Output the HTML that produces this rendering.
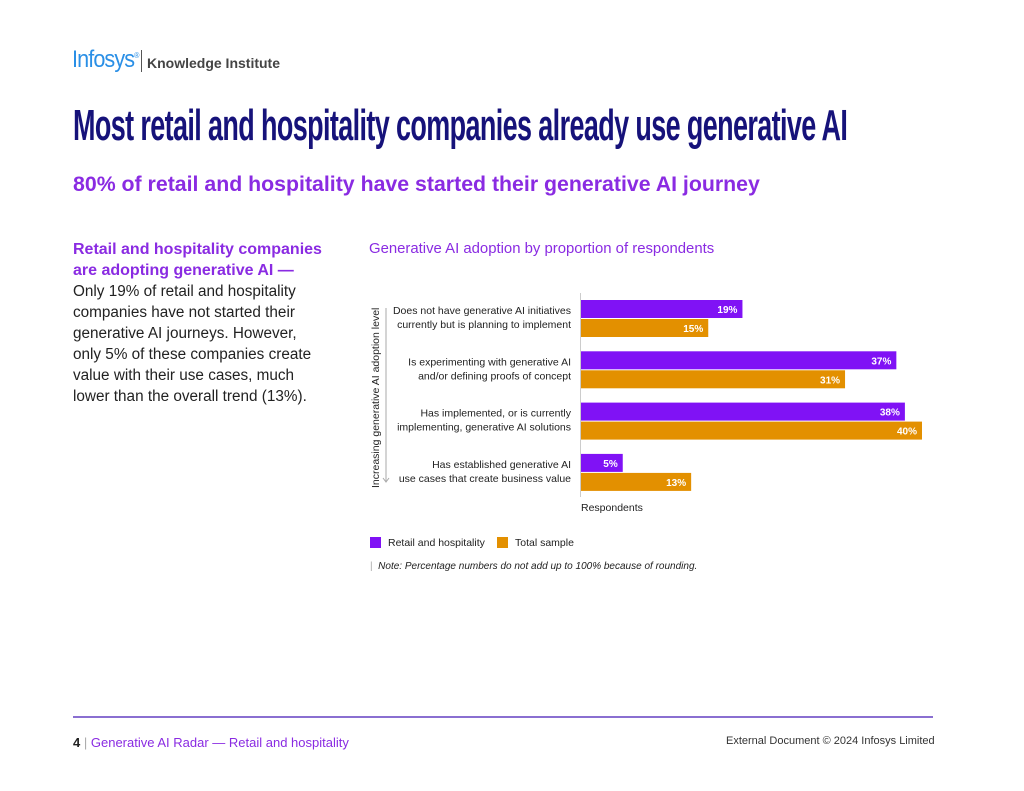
<!DOCTYPE html>
<html><head><meta charset="utf-8"><style>
body{margin:0;width:1024px;height:791px;background:#fff;font-family:"Liberation Sans",sans-serif;position:relative;overflow:hidden}
.a{position:absolute;margin:0;white-space:nowrap}
</style></head><body>
<div class="a" style="left:72px;top:46px;font-size:24px;color:#2a8fe6;letter-spacing:-1px;transform:scaleX(0.9);transform-origin:left">Infosys<sup style="font-size:8px">®</sup></div>
<div class="a" style="left:141px;top:50px;width:1px;height:22px;background:#555"></div>
<div class="a" style="left:147px;top:55px;font-size:14px;font-weight:bold;color:#444">Knowledge Institute</div>
<div class="a" style="left:73px;top:101px;font-size:44px;font-weight:bold;color:#16127a;letter-spacing:-1px;transform:scaleX(0.613);transform-origin:left">Most retail and hospitality companies already use generative AI</div>
<div class="a" style="left:73px;top:172px;font-size:21.3px;font-weight:bold;color:#8a2be2">80% of retail and hospitality have started their generative AI journey</div>
<div class="a" style="left:73px;top:239px;font-size:16px;font-weight:bold;color:#8a2be2;line-height:21px">Retail and hospitality companies<br>are adopting generative AI —</div>
<div class="a" style="left:73px;top:281px;font-size:15.3px;color:#222;line-height:21px">Only 19% of retail and hospitality<br>companies have not started their<br>generative AI journeys. However,<br>only 5% of these companies create<br>value with their use cases, much<br>lower than the overall trend (13%).</div>
<div class="a" style="left:369px;top:241px;font-size:14.9px;color:#8a2be2">Generative AI adoption by proportion of respondents</div>
<svg class="a" style="left:0;top:0" width="1024" height="791">
<text transform="translate(379,488) rotate(-90)" font-size="10.5" fill="#222">Increasing generative AI adoption level</text>
<line x1="386" y1="308" x2="386" y2="482" stroke="#aaa"/>
<path d="M383,478 L386,482 L389,478" stroke="#aaa" fill="none"/>
<line x1="580.5" y1="293" x2="580.5" y2="497" stroke="#ccc"/>
<text x="581" y="511" font-size="10.5" fill="#222">Respondents</text>
<g id="bars"></g>
</svg>
<div class="a" style="left:370px;top:537px;font-size:10.5px;color:#222"><span style="display:inline-block;width:11px;height:11px;background:#8012f5;vertical-align:-2px;margin-right:7px"></span>Retail and hospitality</div>
<div class="a" style="left:497px;top:537px;font-size:10.5px;color:#222"><span style="display:inline-block;width:11px;height:11px;background:#e39000;vertical-align:-2px;margin-right:7px"></span>Total sample</div>
<div class="a" style="left:370px;top:561px;font-size:10px;color:#222;font-style:italic"><span style="color:#aaa;font-style:normal">|</span>&nbsp; Note: Percentage numbers do not add up to 100% because of rounding.</div>
<div class="a" style="left:73px;top:716px;width:860px;height:2px;background:#8a6fd1"></div>
<div class="a" style="left:73px;top:735px;font-size:13px;color:#222"><b>4</b> <span style="color:#aaa">|</span> <span style="color:#8a2be2">Generative AI Radar — Retail and hospitality</span></div>
<div class="a" style="left:726px;top:735px;font-size:11px;color:#333">External Document © 2024 Infosys Limited</div>
<script>
const categories=[["Does not have generative AI initiatives","currently but is planning to implement"],["Is experimenting with generative AI","and/or defining proofs of concept"],["Has implemented, or is currently","implementing, generative AI solutions"],["Has established generative AI","use cases that create business value"]];
const retail=[19,37,38,5];
const total=[15,31,40,13];
const NS="http://www.w3.org/2000/svg";
const g=document.getElementById("bars");
const x=v=>580+v*8.55;
const yTop=i=>300+i*51.3;
function mk(t,a){const e=document.createElementNS(NS,t);for(const k in a)e.setAttribute(k,a[k]);g.appendChild(e);return e;}
categories.forEach((c,i)=>{
  const y=yTop(i);
  c.forEach((ln,j)=>{const t=mk("text",{x:571,y:y+14+j*14,"text-anchor":"end","font-size":"10.5",fill:"#222"});t.textContent=ln;
  
  });
  [[retail,"#8012f5",0],[total,"#e39000",19]].forEach(([arr,col,off])=>{
    const r=mk("rect",{x:581,y:y+off,width:x(arr[i])-581,height:18,fill:col});
    
    
    const t=mk("text",{x:x(arr[i])-5,y:y+off+13,"text-anchor":"end","font-size":"10",fill:"#fff","font-weight":"bold"});
    t.textContent=arr[i]+"%";
    
    
  });
});
</script>
</body></html>
